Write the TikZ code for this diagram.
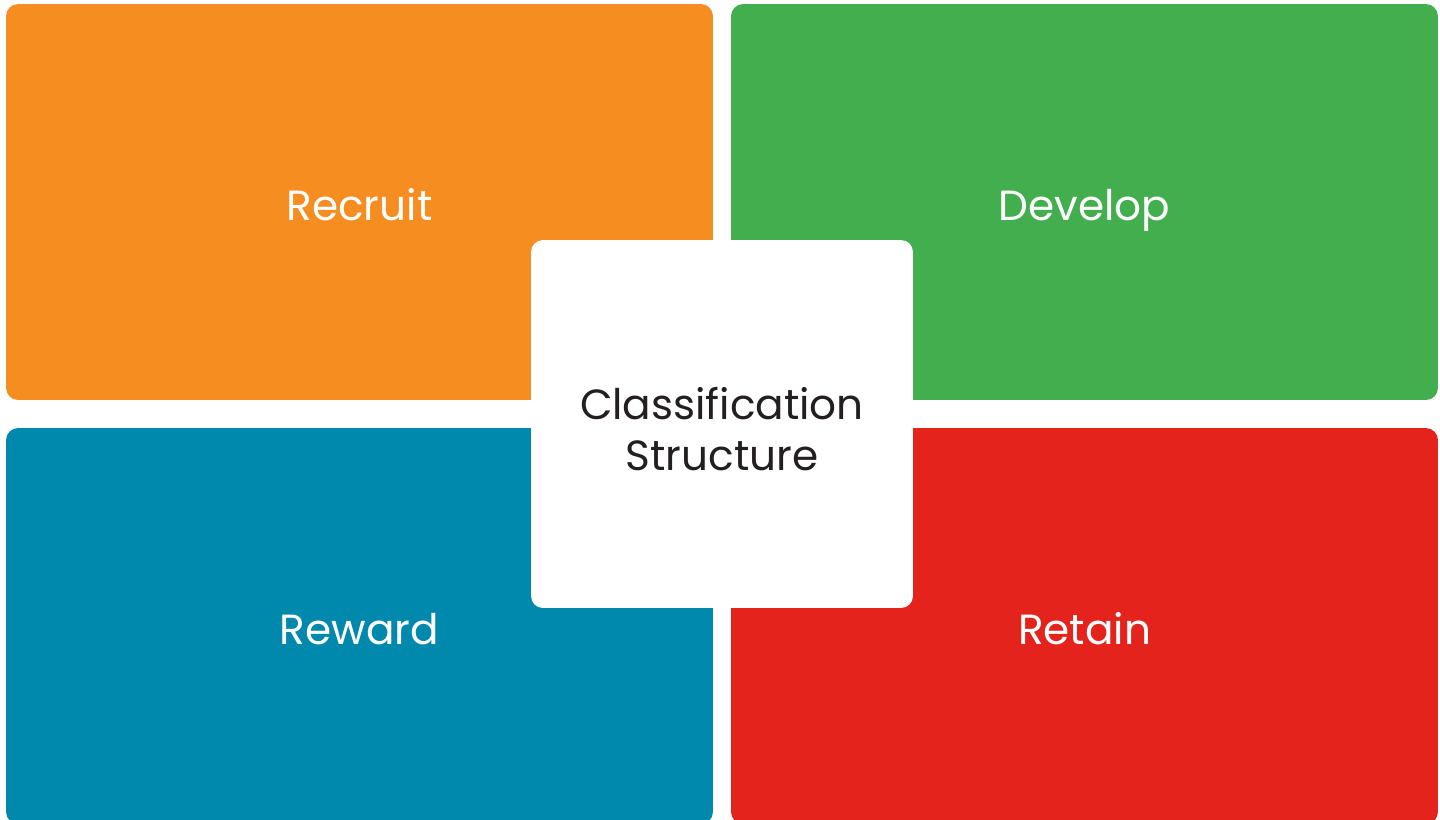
\documentclass[tikz,border=0pt]{standalone}
\usepackage{fontspec}
\setmainfont{Poppins}
\definecolor{recruit}{HTML}{F68D20}
\definecolor{develop}{HTML}{43AE4D}
\definecolor{reward}{HTML}{0088AD}
\definecolor{retain}{HTML}{E4241C}
\definecolor{ink}{HTML}{231F20}
\begin{document}
\begin{tikzpicture}
  [x=0.02cm,y=-0.02cm,
   every node/.style={rectangle,rounded corners=0.24cm,inner sep=0pt,font=\fontsize{24}{29}\selectfont},
   quad/.style={minimum width=14.14cm,minimum height=7.92cm,text=white,text height=0.86cm,text depth=0.12cm}]
  \useasboundingbox (0,0) rectangle (1440,819);
  \clip (0,0) rectangle (1440,819);

  \foreach \name/\label/\x/\y in {recruit/Recruit/359.5/202,develop/Develop/1084.5/202,
                                  reward/Reward/359.5/626,retain/Retain/1084.5/626}
    \node[quad,fill=\name] (\name) at (\x,\y) {\label};

  \node[fill=white,minimum width=7.64cm,minimum height=7.36cm] (core) at (722,424) {};
  \node[text=ink,align=center] (title) at ([yshift=-0.1cm]core.center) {Classification\\Structure};

\end{tikzpicture}
\end{document}
